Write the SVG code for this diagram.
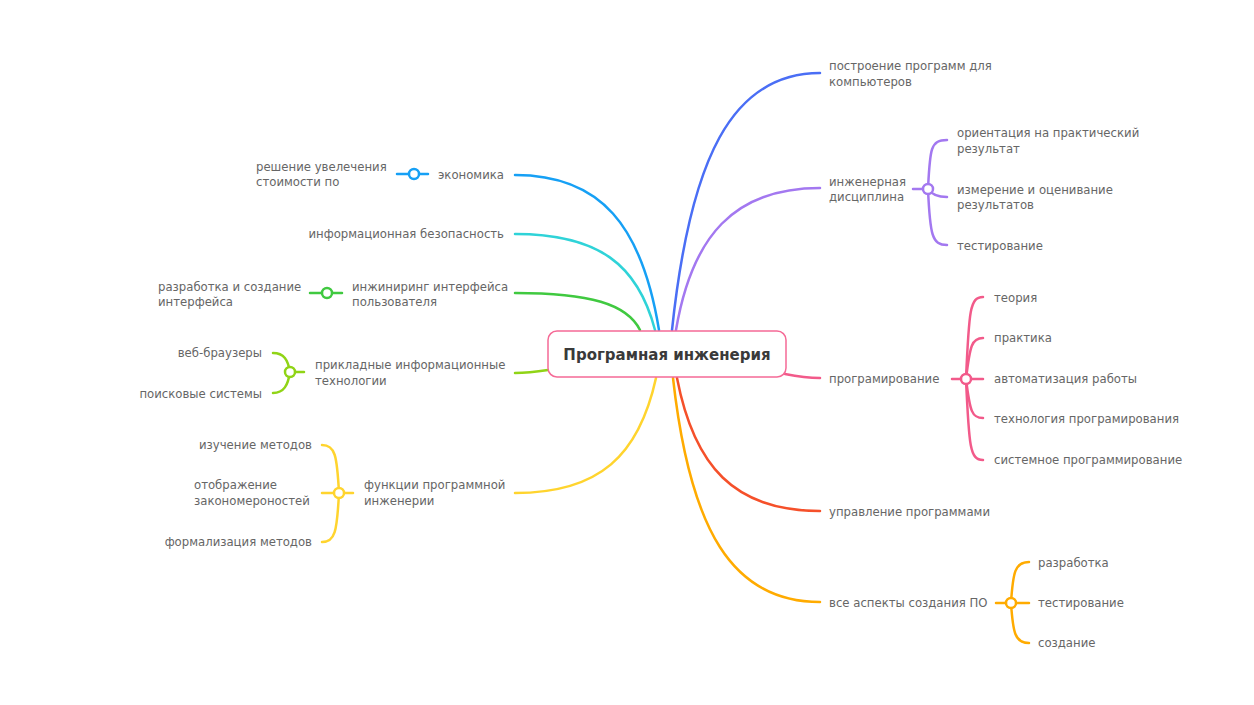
<svg xmlns="http://www.w3.org/2000/svg" width="1254" height="705" viewBox="0 0 1254 705">
<style>
.t{font-family:"DejaVu Sans","Liberation Sans",sans-serif;font-size:11.7px;fill:#666}
.e{text-anchor:end}
.title{font-family:"DejaVu Sans","Liberation Sans",sans-serif;font-size:15px;font-weight:bold;fill:#3a3a3a;text-anchor:middle}
path,line{fill:none;stroke-width:2.5;stroke-linecap:round}
circle{fill:#fff;stroke-width:2.5}
</style>
<rect width="1254" height="705" fill="#fff"/>
<g id="connectors">
<path d="M672,330 C690,160 731,73 820,73" stroke="#4a6ef5"/>
<path d="M676,330 C692,236 734,188 820,188" stroke="#a378f0"/>
<path d="M785,374 C800,377 808,378 820,378" stroke="#f25a8a"/>
<path d="M677,378 C694,466 734,511 820,511" stroke="#f5502a"/>
<path d="M673,378 C690,530 732,602 820,602" stroke="#ffab00"/>
<path d="M659,330 C642,226 601,175 515,175" stroke="#16a0f5"/>
<path d="M655,330 C638,265 599,234 515,234" stroke="#2fd3d8"/>
<path d="M640,330 C627,304 590,293 515,293" stroke="#40c940"/>
<path d="M548,370 C535,372 528,373 515,373" stroke="#90d416"/>
<path d="M656,378 C639,455 600,493 515,493" stroke="#ffd42e"/>
<line x1="913" y1="189" x2="928" y2="189" stroke="#a378f0"/>
<path d="M928,189 C930,150 930,140 947,140" stroke="#a378f0"/>
<path d="M928,189 C932,195 938,197 947,197" stroke="#a378f0"/>
<path d="M928,189 C930,235 932,245 947,245" stroke="#a378f0"/>
<line x1="952" y1="379" x2="983" y2="379" stroke="#f25a8a"/>
<path d="M966,379 C969,310 970,297 983,297" stroke="#f25a8a"/>
<path d="M966,379 C970,345 972,338 983,338" stroke="#f25a8a"/>
<path d="M966,379 C970,412 972,418 983,418" stroke="#f25a8a"/>
<path d="M966,379 C969,447 970,460 983,460" stroke="#f25a8a"/>
<line x1="996" y1="603" x2="1029" y2="603" stroke="#ffab00"/>
<path d="M1011,603 C1013,572 1015,562 1029,562" stroke="#ffab00"/>
<path d="M1011,603 C1013,633 1015,643 1029,643" stroke="#ffab00"/>
<line x1="397" y1="174" x2="428" y2="174" stroke="#16a0f5"/>
<line x1="310" y1="293" x2="342" y2="293" stroke="#40c940"/>
<line x1="290" y1="372" x2="304" y2="372" stroke="#90d416"/>
<path d="M290,372 C288,360 284,353 273,353" stroke="#90d416"/>
<path d="M290,372 C288,385 284,393 273,393" stroke="#90d416"/>
<line x1="322" y1="493" x2="353" y2="493" stroke="#ffd42e"/>
<path d="M339,493 C337,455 335,445 322,445" stroke="#ffd42e"/>
<path d="M339,493 C337,532 335,542 322,542" stroke="#ffd42e"/>
</g>
<g id="center">
<rect x="548" y="331" width="238" height="46" rx="9" fill="#fff" stroke="#f56a96" stroke-width="1.5"/>
<text class="title" x="667" y="360">Програмная инженерия</text>
</g>
<g id="n-postroenie"><text class="t" x="829" y="70">построение программ для</text><text class="t" x="829" y="86">компьютеров</text></g>
<g id="n-ing"><text class="t" x="829" y="186">инженерная</text><text class="t" x="829" y="201">дисциплина</text><circle cx="928" cy="189" r="5" stroke="#a378f0"/></g>
<g id="n-orient"><text class="t" x="957" y="137">ориентация на практический</text><text class="t" x="957" y="153">результат</text></g>
<g id="n-izm"><text class="t" x="957" y="194">измерение и оценивание</text><text class="t" x="957" y="209">результатов</text></g>
<g id="n-test1"><text class="t" x="957" y="250">тестирование</text></g>
<g id="n-prog"><text class="t" x="829" y="383">програмирование</text><circle cx="966" cy="379" r="5" stroke="#f25a8a"/></g>
<g id="n-teor"><text class="t" x="994" y="302">теория</text></g>
<g id="n-prak"><text class="t" x="994" y="342">практика</text></g>
<g id="n-avt"><text class="t" x="994" y="383">автоматизация работы</text></g>
<g id="n-tech"><text class="t" x="994" y="423">технология програмирования</text></g>
<g id="n-sys"><text class="t" x="994" y="464">системное программирование</text></g>
<g id="n-upr"><text class="t" x="829" y="516">управление программами</text></g>
<g id="n-asp"><text class="t" x="829" y="607">все аспекты создания ПО</text><circle cx="1011" cy="603" r="5" stroke="#ffab00"/></g>
<g id="n-razr"><text class="t" x="1038" y="567">разработка</text></g>
<g id="n-test2"><text class="t" x="1038" y="607">тестирование</text></g>
<g id="n-sozd"><text class="t" x="1038" y="647">создание</text></g>
<g id="n-econ"><text class="t e" x="504" y="179">экономика</text><circle cx="414" cy="174" r="5" stroke="#16a0f5"/></g>
<g id="n-resh"><text class="t" x="256" y="171">решение увелечения</text><text class="t" x="256" y="186">стоимости по</text></g>
<g id="n-info"><text class="t e" x="504" y="238">информационная безопасность</text></g>
<g id="n-inzh"><text class="t" x="352" y="291">инжиниринг интерфейса</text><text class="t" x="352" y="306">пользователя</text><circle cx="327" cy="293" r="5" stroke="#40c940"/></g>
<g id="n-razr2"><text class="t" x="158" y="291">разработка и создание</text><text class="t" x="158" y="306">интерфейса</text></g>
<g id="n-prikl"><text class="t" x="315" y="369">прикладные информационные</text><text class="t" x="315" y="385">технологии</text><circle cx="290" cy="372" r="5" stroke="#90d416"/></g>
<g id="n-veb"><text class="t e" x="262" y="357">веб-браузеры</text></g>
<g id="n-poisk"><text class="t e" x="262" y="398">поисковые системы</text></g>
<g id="n-func"><text class="t" x="364" y="489">функции программной</text><text class="t" x="364" y="505">инженерии</text><circle cx="339" cy="493" r="5" stroke="#ffd42e"/></g>
<g id="n-izuch"><text class="t e" x="312" y="449">изучение методов</text></g>
<g id="n-otobr"><text class="t" x="194" y="489">отображение</text><text class="t" x="194" y="505">закономероностей</text></g>
<g id="n-form"><text class="t e" x="312" y="546">формализация методов</text></g>
</svg>
